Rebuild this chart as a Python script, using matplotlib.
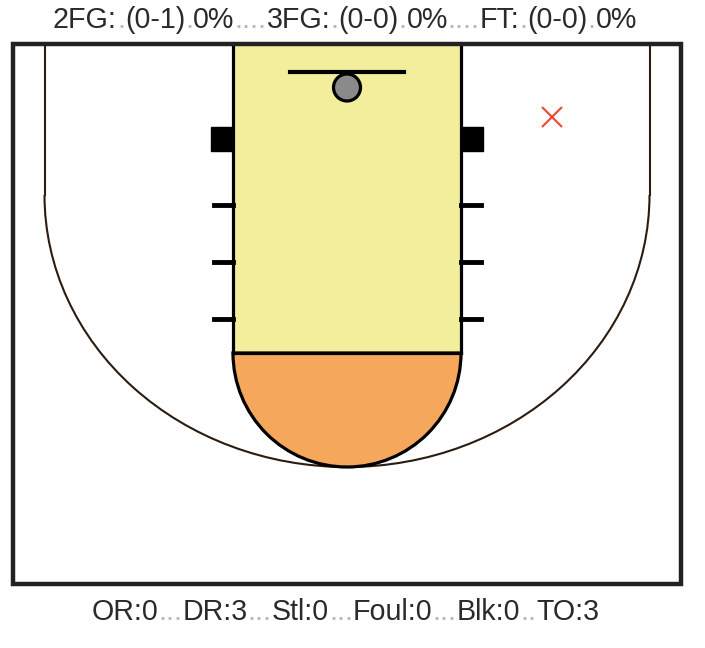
import numpy as np
import matplotlib
matplotlib.use('Agg')
import matplotlib.pyplot as plt
from matplotlib.patches import Rectangle, Arc, Wedge, Circle

# shots (court pixel coords) and box-score numbers
shot_x = [552]
shot_y = [117]
shot_made = [False]
fg2 = [0, 1]      # made, attempted
fg3 = [0, 0]
ft = [0, 0]
stat_names = ['OR', 'DR', 'Stl', 'Foul', 'Blk', 'TO']
stat_values = [0, 3, 0, 0, 0, 3]

WORD_FONT = ['Liberation Sans Narrow', 'Liberation Sans', 'DejaVu Sans']
GAP_FONT = ['Liberation Sans', 'DejaVu Sans']


def pct(m, a):
    return "%d%%" % (round(100.0 * m / a) if a else 0)


def chain_text(ax, parts, x0, y0, size):
    # parts: list of (string, is_gap); gaps show up as faint dots
    prev = None
    for s, gap in parts:
        kw = dict(fontsize=size, ha='left', va='baseline',
                  color='#b8b8b8' if gap else '#2a2a2a',
                  family=GAP_FONT if gap else WORD_FONT)
        if prev is None:
            prev = ax.text(x0, y0, s, **kw)
        else:
            prev = ax.annotate(s, xy=(1, y0), xycoords=(prev, 'data'), **kw)


def draw_court(ax):
    lw_line = 2.3
    # outer border
    ax.add_patch(Rectangle((12.5, 44), 668, 540, fill=False,
                           edgecolor='#222222', lw=3.2, zorder=5))
    # three point line
    arc_col = '#2a1c10'
    ax.plot([44.5, 44.5], [44, 195], color=arc_col, lw=1.5, zorder=2)
    ax.plot([649.5, 649.5], [44, 195], color=arc_col, lw=1.5, zorder=2)
    ax.add_patch(Arc((347, 195), 605, 544, theta1=0, theta2=180,
                     color=arc_col, lw=1.5, zorder=2))
    # paint
    ax.add_patch(Rectangle((233, 44), 228, 309, facecolor='#f2ee9c',
                           edgecolor='none', zorder=1))
    ax.add_patch(Wedge((347, 353), 114, 0, 180, facecolor='#f5a85b',
                       edgecolor='black', lw=lw_line, zorder=3))
    ax.plot([233, 233], [44, 353], color='black', lw=lw_line, zorder=4)
    ax.plot([461, 461], [44, 353], color='black', lw=lw_line, zorder=4)
    ax.plot([233, 461], [353, 353], color='black', lw=lw_line, zorder=4)
    # blocks and hash marks
    ax.add_patch(Rectangle((211, 127), 22, 24, color='black', zorder=4))
    ax.add_patch(Rectangle((461, 127), 22, 24, color='black', zorder=4))
    for y in [205, 262, 319]:
        ax.plot([214, 233], [y, y], color='black', lw=3.5, zorder=4)
        ax.plot([461, 481], [y, y], color='black', lw=3.5, zorder=4)
    # backboard and rim
    ax.plot([290, 404], [72, 72], color='black', lw=3.0, zorder=4)
    ax.add_patch(Circle((347, 87.5), 13.5, facecolor='#8a8a8a',
                        edgecolor='black', lw=lw_line, zorder=4))


def create_figure(outfile):
    fig = plt.figure(figsize=(7.05, 6.48), dpi=100)
    ax = fig.add_axes([0, 0, 1, 1])
    ax.set_xlim(0, 705)
    ax.set_ylim(648, 0)
    ax.axis('off')

    draw_court(ax)

    for x, y, made in zip(shot_x, shot_y, shot_made):
        if made:
            ax.plot(x, y, 'o', mfc='none', mec='#2e8b57', ms=14, mew=1.6,
                    zorder=6)
        else:
            ax.plot(x, y, 'x', color='#e8503a', ms=15, mew=1.6, zorder=6)

    top = []
    for i, (lab, (m, a)) in enumerate(zip(['2FG:', '3FG:', 'FT:'],
                                          [fg2, fg3, ft])):
        if i:
            top.append(('....', True))
        top += [(lab, False), ('.', True), ('(%d-%d)' % (m, a), False),
                ('.', True), (pct(m, a), False)]
    chain_text(ax, top, 53, 28.5, 20.6)

    bottom = []
    for i, (n, v) in enumerate(zip(stat_names, stat_values)):
        if i:
            bottom.append(('..' if n == 'TO' else '...', True))
        bottom.append(('%s:%d' % (n, v), False))
    chain_text(ax, bottom, 92, 620.5, 20.6)

    fig.savefig(outfile, dpi=100)


def main():
    create_figure('out.png')


if __name__ == "__main__":
    main()
